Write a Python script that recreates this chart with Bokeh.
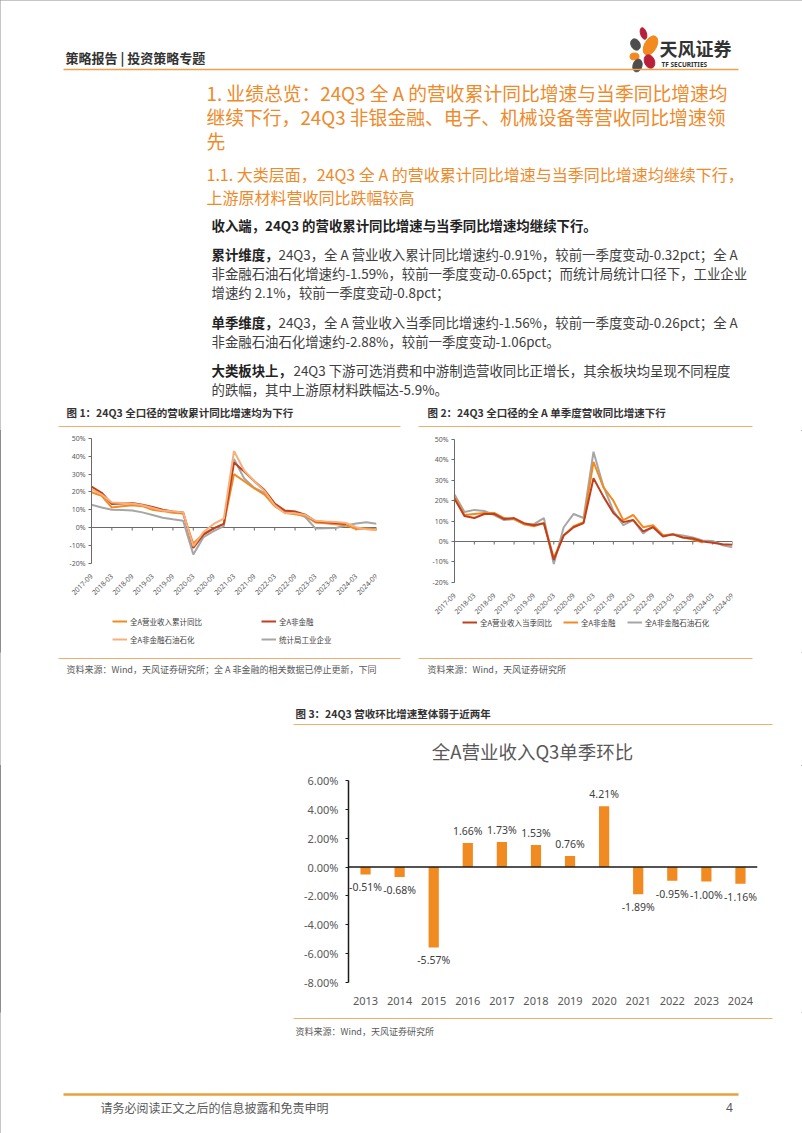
import math
from bokeh.plotting import figure
from bokeh.models import (Range1d, Span, Legend, LegendItem, FixedTicker,
                          PrintfTickFormatter, ColumnDataSource, FactorRange, Spacer)
from bokeh.layouts import column, row
from bokeh.embed import file_html
from bokeh.resources import INLINE
from bokeh.core.properties import value

FONT = "Noto Sans CJK SC"
LATIN = "Noto Sans"
ORANGE = "#F28A22"
DARKRED = "#C0401E"
PEACH = "#F7B07C"
GRAY = "#A6A6A6"
HEAD = "#EE8A2A"
RULE = "#F3AE6E"
TXT = "#404040"
AX = "#595959"

# ---------------- data ----------------
quarters = ["2017-09", "2017-12", "2018-03", "2018-06", "2018-09", "2018-12",
            "2019-03", "2019-06", "2019-09", "2019-12", "2020-03", "2020-06",
            "2020-09", "2020-12", "2021-03", "2021-06", "2021-09", "2021-12",
            "2022-03", "2022-06", "2022-09", "2022-12", "2023-03", "2023-06",
            "2023-09", "2023-12", "2024-03", "2024-06", "2024-09"]

# Figure 1: cumulative YoY (%)
c1_total = [19.8, 17.8, 11.2, 12.0, 12.5, 12.0, 10.0, 9.2, 8.3, 7.8, -9.0, -3.5, -0.5, 2.0,
            30.0, 26.0, 22.0, 18.5, 12.0, 8.3, 7.5, 6.5, 2.8, 2.4, 1.8, 1.3, -0.8, -0.59, -0.91]
c1_nonfin = [23.0, 19.5, 13.2, 13.5, 13.8, 12.8, 11.5, 10.0, 9.0, 8.5, -11.5, -4.0, -0.5, 2.0,
             36.5, 31.5, 26.0, 21.0, 13.5, 9.5, 9.0, 7.2, 3.5, 3.0, 2.6, 2.0]
c1_exoil = [21.5, 18.5, 14.0, 13.8, 13.5, 12.5, 11.0, 9.5, 9.0, 8.5, -10.5, -2.5, 2.0, 5.0,
            43.0, 32.0, 26.0, 20.5, 12.5, 8.0, 8.0, 7.0, 3.8, 3.4, 3.1, 2.6, 0.2, -0.94, -1.59]
c1_ind = [12.8, 11.2, 10.0, 9.9, 9.5, 8.5, 7.0, 5.5, 4.6, 3.8, -15.1, -5.4, -2.0, 0.8,
          38.5, 27.5, 22.2, 19.4, 12.8, 9.1, 8.8, 5.9, -0.5, -0.4, -0.3, 1.1, 2.3, 2.9, 2.1]

# Figure 2: single-quarter YoY (%)
c2_total = [21.0, 12.5, 11.5, 13.5, 13.5, 11.0, 11.5, 9.0, 8.0, 9.0, -9.0, 3.0, 7.0, 9.0,
            31.0, 22.0, 14.0, 9.5, 10.5, 5.0, 7.0, 2.5, 3.5, 2.0, 1.5, 0.0, -0.6, -1.30, -1.56]
c2_nonfin = [22.0, 13.0, 13.5, 14.0, 14.0, 11.5, 11.0, 8.5, 7.5, 9.0, -8.0, 3.0, 7.5, 9.5,
             39.0, 26.5, 20.0, 10.5, 13.0, 7.0, 8.0, 3.0, 3.5, 2.0, 1.0, -0.5]
c2_exoil = [23.0, 14.5, 15.5, 15.0, 13.0, 10.5, 11.0, 8.5, 8.5, 11.5, -11.0, 7.0, 13.5, 11.5,
            44.0, 27.0, 15.0, 8.0, 10.5, 4.0, 7.5, 3.0, 3.5, 3.0, 2.0, 0.5, 0.3, -1.82, -2.88]

# Figure 3: Q3 single-quarter QoQ (%)
years = ["2013", "2014", "2015", "2016", "2017", "2018", "2019", "2020", "2021", "2022", "2023", "2024"]
qoq = [-0.51, -0.68, -5.57, 1.66, 1.73, 1.53, 0.76, 4.21, -1.89, -0.95, -1.00, -1.16]


# ---------------- helpers ----------------
def page_fig(y0, y1, width=802):
    p = figure(width=width, height=y1 - y0, x_range=Range1d(0, width), y_range=Range1d(y1, y0),
               output_backend="svg", toolbar_location=None, min_border=0,
               x_axis_location=None, y_axis_location=None)
    p.grid.visible = False
    p.outline_line_color = None
    return p


def txt(p, x, y, s, size, color=TXT, bold=False, align="left", font=FONT):
    p.text(x=[x], y=[y], text=[s], text_font=value(font), text_font_size=f"{size}px",
           text_color=color, text_font_style="bold" if bold else "normal",
           text_align=align, text_baseline="middle")


def rule(p, x0, x1, y, color=RULE, w=1.0):
    p.segment(x0=[x0], y0=[y], x1=[x1], y1=[y], line_color=color, line_width=w)


# ---------------- top block (0-430) ----------------
A = page_fig(0, 430)
txt(A, 65, 57, "策略报告 | 投资策略专题", 13, "#333333", bold=True)
# logo petals
A.ellipse(x=[643], y=[33], width=[6], height=[12], angle=[0.3], color="#B8203A")
A.ellipse(x=[635], y=[44], width=[9], height=[12], angle=[0.5], color="#4D4D4D")
A.ellipse(x=[650], y=[45], width=[12], height=[21], angle=[-0.5], color="#F28A1E")
A.ellipse(x=[634], y=[56], width=[9], height=[7], angle=[0.0], color="#F28A1E")
A.ellipse(x=[649], y=[61], width=[10], height=[14], angle=[0.4], color="#B8203A")
A.ellipse(x=[637], y=[65], width=[9], height=[13], angle=[-0.3], color="#4D4D4D")
txt(A, 659, 47, "天风证券", 18, "#333333", bold=True)
txt(A, 661, 64, "TF SECURITIES", 6.5, "#333333", bold=True, font=LATIN)
rule(A, 63, 738, 69, color="#F0A048", w=1.6)

h1 = ["1. 业绩总览：24Q3 全 A 的营收累计同比增速与当季同比增速均",
      "继续下行，24Q3 非银金融、电子、机械设备等营收同比增速领",
      "先"]
for i, s in enumerate(h1):
    txt(A, 206, 92 + 24 * i, s, 18.8, HEAD)
h2 = ["1.1. 大类层面，24Q3 全 A 的营收累计同比增速与当季同比增速均继续下行，",
      "上游原材料营收同比跌幅较高"]
for i, s in enumerate(h2):
    txt(A, 206, 173 + 23 * i, s, 16, HEAD)

BS = 13.4
txt(A, 211, 224, "收入端，24Q3 的营收累计同比增速与当季同比增速均继续下行。", BS, "#222222", bold=True)
txt(A, 211, 253, "累计维度，", BS, "#222222", bold=True)
txt(A, 278, 253, "24Q3，全 A 营业收入累计同比增速约-0.91%，较前一季度变动-0.32pct；全 A", BS)
txt(A, 211, 272, "非金融石油石化增速约-1.59%，较前一季度变动-0.65pct；而统计局统计口径下，工业企业", BS)
txt(A, 211, 291, "增速约 2.1%，较前一季度变动-0.8pct；", BS)
txt(A, 211, 321, "单季维度，", BS, "#222222", bold=True)
txt(A, 278, 321, "24Q3，全 A 营业收入当季同比增速约-1.56%，较前一季度变动-0.26pct；全 A", BS)
txt(A, 211, 340, "非金融石油石化增速约-2.88%，较前一季度变动-1.06pct。", BS)
txt(A, 211, 369, "大类板块上，", BS, "#222222", bold=True)
txt(A, 293, 369, "24Q3  下游可选消费和中游制造营收同比正增长，其余板块均呈现不同程度", BS)
txt(A, 211, 388, "的跌幅，其中上游原材料跌幅达-5.9%。", BS)

txt(A, 66, 412, "图 1：24Q3 全口径的营收累计同比增速均为下行", 10.5, "#333333", bold=True)
rule(A, 58, 400, 426)
txt(A, 427, 412, "图 2：24Q3 全口径的全 A 单季度营收同比增速下行", 10.5, "#333333", bold=True)
rule(A, 418, 752, 426)


# ---------------- line charts ----------------
# The frame fills the whole figure height and reaches a little left of the
# y axis, so that the legend, the top tick label and the rotated date labels
# sit inside it; both axes are pinned (x at the -20% level, y at the first
# quarter) and bounded to the -20%..50% span.
def line_chart(width, height, mbl, mbr, pad_left, ymin_view, ymax_view, ymin, ymax):
    n = len(quarters) - 1
    data_px = width - mbl - mbr - pad_left
    x_start = -pad_left * n / data_px
    p = figure(width=width, height=height, x_range=Range1d(x_start, n),
               y_range=Range1d(ymin_view, ymax_view), output_backend="svg", toolbar_location=None,
               min_border_left=mbl, min_border_right=mbr, min_border_top=0, min_border_bottom=0)
    p.grid.visible = False
    p.outline_line_color = None
    ticks = list(range(0, len(quarters), 2))
    p.xaxis.fixed_location = ymin
    p.xaxis.ticker = FixedTicker(ticks=ticks)
    p.xaxis.major_label_overrides = {t: quarters[t] for t in ticks}
    p.xaxis.major_label_orientation = math.pi / 4
    p.xaxis.axis_line_color = None
    p.xaxis.major_tick_line_color = None
    p.xaxis.minor_tick_line_color = None
    p.xaxis.major_label_standoff = 6
    p.xaxis.major_label_text_font_size = "7px"
    p.xaxis.major_label_text_color = AX
    p.xaxis.major_label_text_font = LATIN
    p.yaxis.fixed_location = 0
    p.yaxis.bounds = (ymin, ymax)
    p.yaxis.ticker = FixedTicker(ticks=list(range(ymin, ymax + 1, 10)))
    p.yaxis.formatter = PrintfTickFormatter(format="%d%%")
    p.yaxis.axis_line_color = "#6b6b6b"
    p.yaxis.major_tick_line_color = "#6b6b6b"
    p.yaxis.major_tick_out = 3
    p.yaxis.major_tick_in = 0
    p.yaxis.minor_tick_line_color = None
    p.yaxis.major_label_standoff = 3
    p.yaxis.major_label_text_font_size = "7px"
    p.yaxis.major_label_text_color = AX
    p.yaxis.major_label_text_font = LATIN
    # horizontal category axis line at 0%
    p.segment(x0=[0], y0=[0], x1=[n], y1=[0], line_color="#6b6b6b", line_width=1)
    pxper = height / (ymax_view - ymin_view)
    tl = 3 / pxper
    p.segment(x0=ticks, y0=[0] * len(ticks), x1=ticks, y1=[-tl] * len(ticks),
              line_color="#6b6b6b", line_width=1)
    return p


def style_legend(leg, label_width=None, spacing=6):
    leg.border_line_color = None
    leg.background_fill_alpha = 0
    leg.padding = 0
    leg.margin = 0
    leg.spacing = spacing
    leg.glyph_width = 15
    leg.glyph_height = 12
    leg.label_height = 12
    leg.label_standoff = 3
    if label_width:
        leg.label_width = label_width
    leg.label_text_font_size = "7.5px"
    leg.label_text_color = TXT
    leg.label_text_font = FONT


xs = list(range(len(quarters)))

PAD = 32
P1 = line_chart(355, 222, 36 - PAD, 34, PAD, -70.2, 54.49, -20, 50)
r_ind = P1.line(xs, c1_ind, line_color=GRAY, line_width=2)
r_tot = P1.line(xs, c1_total, line_color=ORANGE, line_width=2)
r_nf = P1.line(xs[:len(c1_nonfin)], c1_nonfin, line_color=DARKRED, line_width=2)
r_ex = P1.line(xs, c1_exoil, line_color=PEACH, line_width=2)
leg1 = Legend(items=[LegendItem(label="全A营业收入累计同比", renderers=[r_tot]),
                     LegendItem(label="全A非金融", renderers=[r_nf]),
                     LegendItem(label="全A非金融石油石化", renderers=[r_ex]),
                     LegendItem(label="统计局工业企业", renderers=[r_ind])],
              orientation="horizontal", ncols=2, location=(21 + PAD, 7))
style_legend(leg1, label_width=125, spacing=6)
P1.add_layout(leg1)

P2 = line_chart(392, 222, 44 - PAD, 70, PAD, -54.4, 54.41, -20, 50)
s_ex = P2.line(xs, c2_exoil, line_color=GRAY, line_width=2)
s_nf = P2.line(xs[:len(c2_nonfin)], c2_nonfin, line_color=ORANGE, line_width=2)
s_tot = P2.line(xs, c2_total, line_color=DARKRED, line_width=2)
leg2 = Legend(items=[LegendItem(label="全A营业收入当季同比", renderers=[s_tot]),
                     LegendItem(label="全A非金融", renderers=[s_nf]),
                     LegendItem(label="全A非金融石油石化", renderers=[s_ex])],
              orientation="horizontal", location=(8 + PAD, 24))
style_legend(leg2, spacing=11)
P2.add_layout(leg2)

# ---------------- middle strip (652-765) ----------------
C = page_fig(652, 765)
rule(C, 58, 400, 658)
txt(C, 66, 669, "资料来源：Wind，天风证券研究所；全 A 非金融的相关数据已停止更新，下同", 9, "#595959")
rule(C, 418, 752, 658)
txt(C, 427, 669, "资料来源：Wind，天风证券研究所", 9, "#595959")
txt(C, 295, 713, "图 3：24Q3 营收环比增速整体弱于近两年", 10.5, "#333333", bold=True)
rule(C, 293, 772, 724)
txt(C, 532, 750, "全A营业收入Q3单季环比", 18.5, "#595959", align="center")

# ---------------- bar chart (765-1012) ----------------
P3 = figure(width=512, height=247, x_range=FactorRange(factors=years), y_range=Range1d(-8, 6),
            output_backend="svg", toolbar_location=None,
            min_border_left=58, min_border_right=45, min_border_top=15, min_border_bottom=30)
P3.grid.visible = False
P3.outline_line_color = None
src = ColumnDataSource(dict(
    year=years, val=qoq,
    label=[f"{v:.2f}%" for v in qoq],
    off=[-12 if v >= 0 else 13 for v in qoq]))
P3.vbar(x="year", top="val", width=0.3, source=src, fill_color=ORANGE, line_color=None)
P3.text(x="year", y="val", text="label", y_offset="off", source=src,
        text_align="center", text_baseline="middle", text_font_size="10.5px",
        text_color=TXT, text_font=value(LATIN))
P3.add_layout(Span(location=0, dimension="width", line_color="#1a1a1a", line_width=1.5))
P3.yaxis.ticker = FixedTicker(ticks=[-8, -6, -4, -2, 0, 2, 4, 6])
P3.yaxis.formatter = PrintfTickFormatter(format="%.2f%%")
P3.yaxis.axis_line_color = "#1a1a1a"
P3.yaxis.axis_line_width = 1.5
P3.yaxis.major_tick_line_color = "#1a1a1a"
P3.yaxis.major_tick_out = 3
P3.yaxis.major_tick_in = 0
P3.yaxis.minor_tick_line_color = None
P3.yaxis.major_label_standoff = 7
P3.yaxis.major_label_text_font_size = "11px"
P3.yaxis.major_label_text_color = AX
P3.yaxis.major_label_text_font = LATIN
P3.xaxis.axis_line_color = None
P3.xaxis.major_tick_line_color = None
P3.xaxis.minor_tick_line_color = None
P3.xaxis.major_label_standoff = 8
P3.xaxis.major_label_text_font_size = "11px"
P3.xaxis.major_label_text_color = AX
P3.xaxis.major_label_text_font = LATIN

# ---------------- bottom block (1012-1133) ----------------
E = page_fig(1012, 1133)
rule(E, 293, 772, 1018)
txt(E, 295, 1031, "资料来源：Wind，天风证券研究所", 9, "#595959")
rule(E, 63, 738, 1094, color="#E9A23B", w=2.5)
txt(E, 100, 1107, "请务必阅读正文之后的信息披露和免责申明", 12, "#595959")
txt(E, 729, 1107, "4", 12, "#595959", align="center", font=LATIN)

layout = column(
    A,
    row(Spacer(width=55, height=222), P1, P2),
    C,
    row(Spacer(width=290, height=247), P3),
    E,
    styles={"outline": "1px solid #8c8c8c", "outline-offset": "-1px"},
)

with open("out.html", "w") as f:
    f.write(file_html(layout, INLINE, title="chart"))
